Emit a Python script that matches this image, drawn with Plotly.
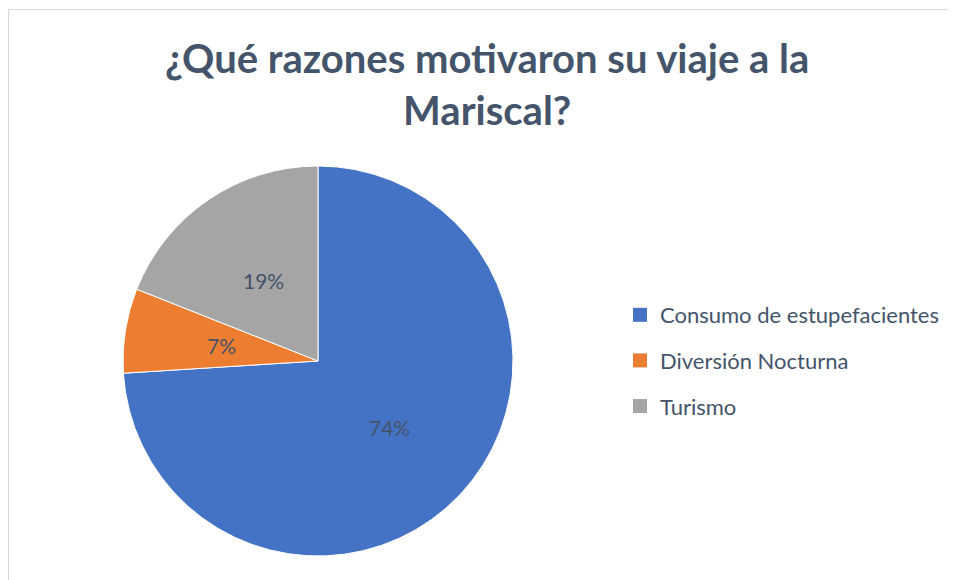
import math
import plotly.graph_objects as go

labels = ["Consumo de estupefacientes", "Diversión Nocturna", "Turismo"]
values = [74, 7, 19]
colors = ["#4472C4", "#ED7D31", "#A5A5A5"]
title = "¿Qué razones motivaron su viaje a la<br>Mariscal?"

W, H = 956, 580
txt = "#44546A"
font = "Lato"

# pie geometry in px (page has an 8px body margin, so these are paper px)
cx, cy, r = 310, 353, 195

fig = go.Figure()

fig.add_trace(go.Pie(
    labels=labels, values=values,
    sort=False, direction="clockwise", rotation=0,
    marker=dict(colors=colors, line=dict(color="#FFFFFF", width=1)),
    textinfo="none",
    domain=dict(x=[(cx - r) / W, (cx + r) / W], y=[1 - (cy + r) / H, 1 - (cy - r) / H]),
    showlegend=False, hoverinfo="label+percent",
))

# percent labels at half radius on each slice's mid angle (Excel style)
total = sum(values)
start = 0.0
annotations = []
for v in values:
    mid = 2 * math.pi * (start + v / 2) / total
    start += v
    annotations.append(dict(
        x=(cx + 0.5 * r * math.sin(mid)) / W, y=1 - (cy - 0.5 * r * math.cos(mid)) / H,
        xref="paper", yref="paper", xanchor="center", yanchor="middle", showarrow=False,
        text=f"{round(100 * v / total)}%",
        font=dict(family=font, size=21, color=txt),
    ))

annotations.append(dict(
    x=479 / W, y=1 - 24 / H, xref="paper", yref="paper", xanchor="center", yanchor="top",
    showarrow=False, text=title,
    font=dict(family=font, size=40, color=txt, weight="bold"),
))

# legend entries (square swatches), one group each so the gap can be set
for i, (lab, col) in enumerate(zip(labels, colors)):
    fig.add_trace(go.Scatter(
        x=[None], y=[None], mode="markers", name=lab,
        marker=dict(symbol="square", size=14, color=col),
        legendgroup=str(i), showlegend=True,
    ))

fig.update_layout(
    width=W, height=H,
    margin=dict(l=0, r=0, t=0, b=0),
    paper_bgcolor="white", plot_bgcolor="white",
    xaxis=dict(visible=False), yaxis=dict(visible=False),
    annotations=annotations,
    legend=dict(x=612 / W, xanchor="left", y=1 - 286 / H, yanchor="top",
                font=dict(family=font, size=22, color=txt),
                tracegroupgap=14, itemwidth=30, bgcolor="rgba(0,0,0,0)"),
    shapes=[dict(type="rect", xref="paper", yref="paper",
                 x0=0.5 / W, x1=1.05, y0=-0.05, y1=1 - 1.5 / H,
                 line=dict(color="#D9D9D9", width=1))],
)

fig.write_html("out.html")
